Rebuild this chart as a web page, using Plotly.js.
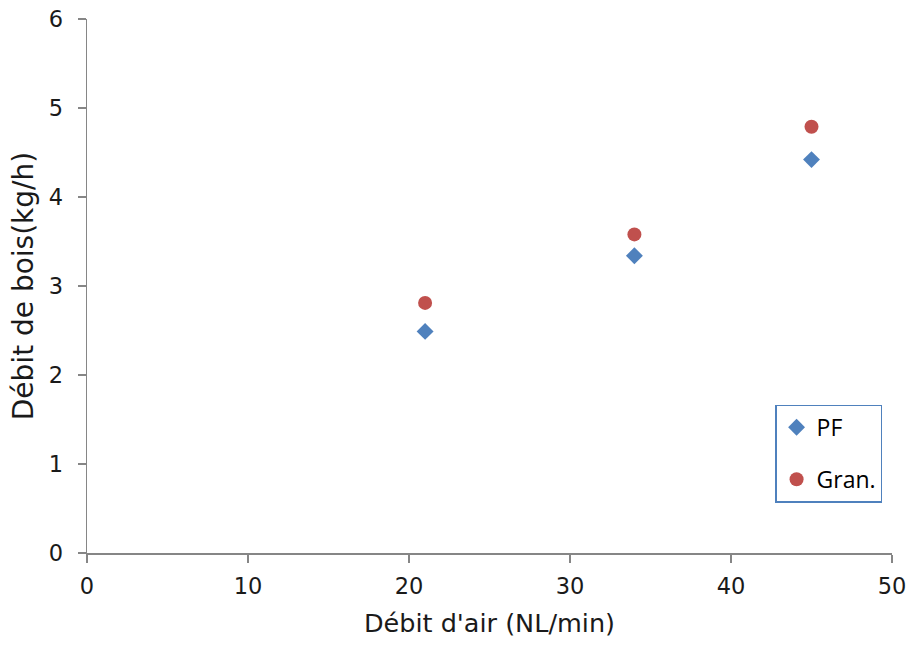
<!DOCTYPE html>
<html>
<head>
<meta charset="utf-8">
<script src="https://cdn.plot.ly/plotly-3.0.1.min.js"></script>
<style>html,body{margin:0;padding:0;background:#fff;}#chart{width:908px;height:646px;}</style>
</head>
<body>
<div id="chart"></div>
<script>
const airFlow = [21, 34, 45];
const pfValues = [2.49, 3.34, 4.42];
const granValues = [2.81, 3.58, 4.79];
const seriesNames = ['PF', 'Gran.'];
const xTicks = [0, 10, 20, 30, 40, 50];
const yTicks = [0, 1, 2, 3, 4, 5, 6];

const fam = '"DejaVu Sans", sans-serif';
const tickFont = {family: fam, size: 22.5, color: '#1a1a1a'};

const traces = [
  {x: airFlow, y: pfValues, name: seriesNames[0], type: 'scatter', mode: 'markers',
   legendgroup: 'a',
   marker: {symbol: 'diamond', size: 13, color: '#4F81BD'}},
  {x: airFlow, y: granValues, name: seriesNames[1], type: 'scatter', mode: 'markers',
   legendgroup: 'b',
   marker: {symbol: 'circle', size: 14, color: '#C0504D'}}
];

const layout = {
  width: 908, height: 646,
  margin: {l: 87, r: 16, t: 19, b: 93},
  paper_bgcolor: '#fff', plot_bgcolor: '#fff',
  showlegend: true,
  legend: {
    x: 0.855, y: 0.278, xanchor: 'left', yanchor: 'top',
    bgcolor: '#fff', bordercolor: '#4F81BD', borderwidth: 1.3,
    font: {family: '"Open Sans", "Liberation Sans", sans-serif', size: 23, color: '#000'},
    traceorder: 'grouped', tracegroupgap: 19,
    itemwidth: 30
  },
  xaxis: {
    range: [0, 50], tickvals: xTicks, ticktext: xTicks.map(String),
    showgrid: false, zeroline: false, showline: true, linecolor: '#868686', linewidth: 1.5,
    ticks: 'outside', ticklen: 8, tickcolor: '#868686', tickwidth: 1.5,
    tickfont: tickFont, ticklabelstandoff: 4,
    title: {text: "Débit d'air (NL/min)", font: {family: fam, size: 25.5, color: '#1a1a1a'}, standoff: 16}
  },
  yaxis: {
    range: [0, 6], tickvals: yTicks, ticktext: yTicks.map(String),
    showgrid: false, zeroline: false, showline: true, linecolor: '#868686', linewidth: 1.5,
    ticks: 'outside', ticklen: 8, tickcolor: '#868686', tickwidth: 1.5,
    tickfont: tickFont, ticklabelstandoff: 10,
    title: {text: 'Débit de bois(kg/h)', font: {family: fam, size: 28, color: '#1a1a1a'}, standoff: 7}
  }
};

Plotly.newPlot('chart', traces, layout, {displayModeBar: false, staticPlot: true});
</script>
</body>
</html>
